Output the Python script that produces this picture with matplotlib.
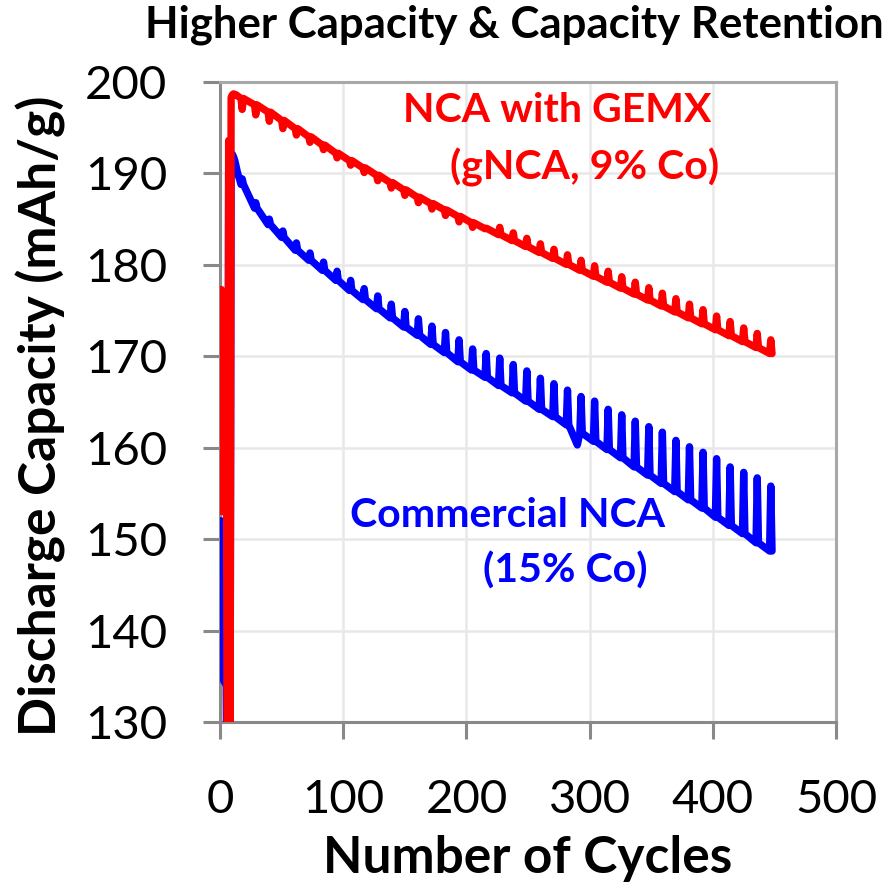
import numpy as np
import matplotlib.pyplot as plt

# formation / rate cycles at the start (cycle, mAh/g)
red_start_cycles = [1, 2, 3, 4, 5, 6, 7, 8, 9, 10, 11, 12, 13, 14, 15, 16]
red_start_caps = [177.3, 153, 176.8, 176.6, 176.3, 112, 193.6, 112,
                  198.3, 198.6, 198.7, 198.6, 198.6, 198.5, 198.4, 198.3]
blue_start_cycles = [1, 2, 3, 4, 5, 6, 7, 8, 9, 10, 11, 12, 13, 14, 15, 16]
blue_start_caps = [152, 143, 134.5, 134.3, 134, 112, 190, 112,
                   192.2, 192.1, 191.8, 191.4, 190.8, 190.2, 189.7, 189.3]

# check-up cycles (every 11th cycle), the line jumps there
check_cycles = [18, 29, 40, 51, 62, 73, 84, 95, 106, 117, 128, 139, 150, 161,
                172, 183, 194, 205, 216, 227, 238, 249, 260, 271, 282, 293,
                304, 315, 326, 337, 348, 359, 370, 381, 392, 403, 414, 425,
                436, 447]

# gNCA (NCA with GEMX)
red_base = [198.2, 197.5, 196.7, 195.8, 194.9, 194.0, 193.1, 192.2, 191.4,
            190.6, 189.8, 189.0, 188.2, 187.4, 186.7, 186.0, 185.3, 184.6,
            183.95, 183.3, 182.65, 182.0, 181.35, 180.7, 180.05, 179.4,
            178.75, 178.1, 177.45, 176.8, 176.15, 175.5, 174.85, 174.2,
            173.55, 172.9, 172.25, 171.6, 170.95, 170.3]
red_peak = [197.0, 196.4, 195.7, 194.9, 194.2, 193.4, 192.6, 191.7, 190.9,
            190.1, 189.2, 188.4, 187.6, 186.8, 186.1, 185.4, 184.7, 184.1,
            184.0, 184.1, 183.5, 182.9, 182.3, 181.7, 181.1, 180.5, 179.9,
            179.3, 178.7, 178.1, 177.5, 176.9, 176.3, 175.7, 175.1, 174.4,
            173.8, 173.1, 172.5, 171.8]

# commercial NCA
blue_base = [188.8, 186.2, 184.4, 183.0, 181.6, 180.5, 179.4, 178.3, 177.2,
             176.2, 175.2, 174.2, 173.2, 172.3, 171.3, 170.4, 169.4, 168.5,
             167.7, 166.8, 166.0, 165.1, 164.2, 163.4, 162.5, 161.6, 160.7,
             159.8, 158.9, 157.9, 157.0, 156.1, 155.2, 154.3, 153.4, 152.4,
             151.5, 150.6, 149.6, 148.7]
blue_peak = [189.4, 186.8, 185.0, 183.7, 182.4, 181.3, 180.3, 179.3, 178.3,
             177.4, 176.6, 175.7, 174.9, 174.1, 173.3, 172.6, 171.8, 170.8,
             170.3, 169.8, 169.1, 168.4, 167.6, 167.0, 166.3, 165.6, 165.1,
             164.2, 163.6, 162.9, 162.3, 161.7, 160.8, 160.1, 159.5, 158.8,
             157.9, 157.3, 156.7, 155.8]
blue_dip_cycles = [290]
blue_dip_caps = [160.3]


def build(start_c, start_v, base, peak, extra_c=(), extra_v=()):
    pts = list(zip(start_c, start_v))
    for c, b, p in zip(check_cycles, base, peak):
        pts += [(c - 1, b), (c, p), (c + 1, b)]
    pts += list(zip(extra_c, extra_v))
    pts.sort(key=lambda t: t[0])
    return [p[0] for p in pts], [p[1] for p in pts]


rx, ry = build(red_start_cycles, red_start_caps, red_base, red_peak)
bx, by = build(blue_start_cycles, blue_start_caps, blue_base, blue_peak,
               blue_dip_cycles, blue_dip_caps)

plt.rcParams['font.family'] = ['Lato', 'DejaVu Sans']

fig = plt.figure(figsize=(8.89, 8.93), dpi=100)
ax = fig.add_axes([0.2475, 0.1915, 0.693, 0.7167])

ax.plot(bx, by, color='#0000ff', lw=5.3, solid_joinstyle='round',
        solid_capstyle='round', zorder=3)
ax.plot(rx, ry, color='#ff0000', lw=5.3, solid_joinstyle='round',
        solid_capstyle='round', zorder=4)

ax.set_xlim(0, 500)
ax.set_ylim(130, 200)
ax.set_xticks([0, 100, 200, 300, 400, 500])
ax.set_yticks([130, 140, 150, 160, 170, 180, 190, 200])
ax.grid(True, color='#e8e8e8', lw=1.8, zorder=0)
ax.set_axisbelow(True)

for side in ['left', 'bottom']:
    ax.spines[side].set_color('#898989')
    ax.spines[side].set_linewidth(2.2)
for side in ['top', 'right']:
    ax.spines[side].set_color('#a8a8a8')
    ax.spines[side].set_linewidth(2.2)

ax.tick_params(axis='both', direction='out', length=12, width=2.2,
               color='#898989', labelsize=34, labelcolor='black')
ax.tick_params(axis='y', pad=26)
ax.tick_params(axis='x', pad=29)

ax.set_xlabel('Number of Cycles', fontsize=37, fontweight='bold', labelpad=10)
ax.set_ylabel('Discharge Capacity (mAh/g)', fontsize=37, fontweight='bold')
ax.yaxis.set_label_coords(-0.25, 0.478)

ax.text(274, 196.9, 'NCA with GEMX', color='#ff0000', fontsize=29.5,
        fontweight='bold', ha='center', va='center')
ax.text(296, 190.7, '(gNCA, 9% Co)', color='#ff0000', fontsize=29.5,
        fontweight='bold', ha='center', va='center')
ax.text(233, 152.6, 'Commercial NCA', color='#0000ff', fontsize=29.5,
        fontweight='bold', ha='center', va='center')
ax.text(280, 146.6, '(15% Co)', color='#0000ff', fontsize=29.5,
        fontweight='bold', ha='center', va='center')

fig.text(0.579, 0.972, 'Higher Capacity & Capacity Retention', fontsize=31.5,
         fontweight='bold', ha='center', va='center')

fig.savefig('out.png', dpi=100)
